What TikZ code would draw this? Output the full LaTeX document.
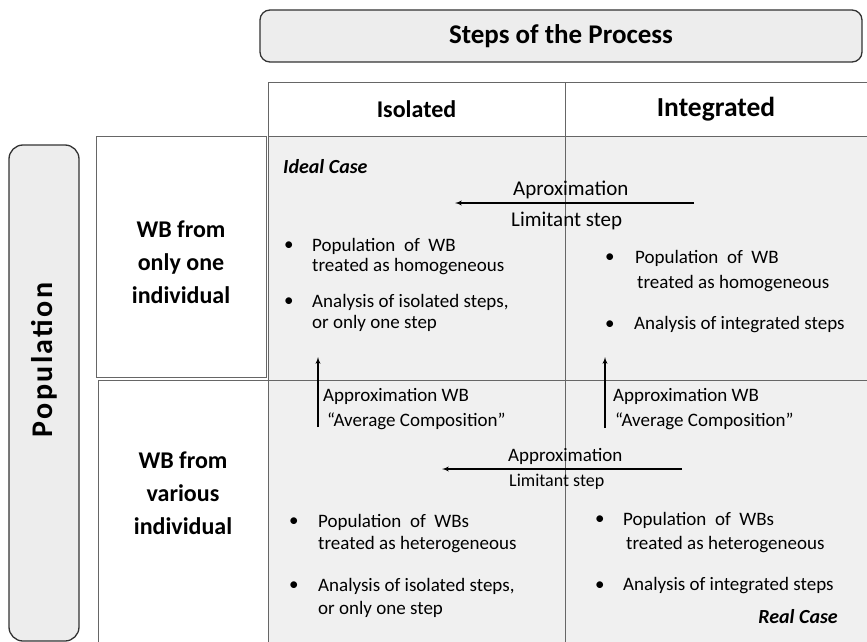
\documentclass[tikz,border=0pt]{standalone}
\usepackage{fontspec}
\setmainfont{Carlito}
\newfontfamily\popfont[LetterSpace=8]{Carlito}
\usetikzlibrary{positioning}
\usetikzlibrary{arrows}

\begin{document}
\begin{tikzpicture}[x=1pt,y=-1pt]
    \tikzstyle{every node}=[inner sep=0pt]
    \tikzstyle{titre}=[draw=black!80,line width=1.3pt,rounded corners=10pt,fill=black!7]
    \tikzstyle{cellule}=[draw=black!60,line width=1pt]
    \tikzstyle{corps}=[cellule,fill=black!6]
    \tikzstyle{entete}=[cellule,fill=white]
    \tikzstyle{ligne}=[cellule,fill=white]
    \tikzstyle{lignetxt}=[font=\fontsize{24}{33}\selectfont\bfseries,align=center]
    \tikzstyle{texte}=[anchor=west,font=\fontsize{19}{22}\selectfont]
    \tikzstyle{puce}=[texte]
    \tikzstyle{cas}=[font=\fontsize{20}{22}\selectfont\bfseries\itshape]
    \tikzstyle{fleche}=[-latex',line width=1.3pt]

\useasboundingbox (0,0) rectangle (867,642);

% Titres
\node[titre,minimum width=602,minimum height=52,font=\fontsize{27}{30}\selectfont\bfseries] (steps) at (561,36) {Steps of the Process};
\node[titre,minimum width=70,minimum height=496,rounded corners=14pt] (pop) at (44,393) {};
\node[rotate=90,font=\fontsize{30}{32}\popfont\bfseries] (popt) at (44,360) {Population};

% Entetes
\node[entete,minimum width=297,minimum height=54,font=\fontsize{24}{26}\selectfont\bfseries] (isol) at (416.5,109) {Isolated};
\node[entete,minimum width=302,minimum height=54,font=\fontsize{27.5}{30}\selectfont\bfseries] (integ) at (716,109) {Integrated};

% Cases
\node[corps,minimum width=297,minimum height=244] (c11) at (416.5,258) {};
\node[corps,minimum width=302,minimum height=244] (c12) at (716,258) {};
\node[corps,minimum width=297,minimum height=270] (c21) at (416.5,515) {};
\node[corps,minimum width=302,minimum height=270] (c22) at (716,515) {};

% Lignes
\node[ligne,minimum width=170,minimum height=241] (L-1) at (181,256.5) {};
\node[lignetxt] (L-1t) at (181,262) {WB from\\only one\\individual};
\node[ligne,minimum width=170,minimum height=270] (L-2) at (183,515) {};
\node[lignetxt] (L-2t) at (183,493) {WB from\\various\\individual};

% Case ideale
\node[cas,anchor=west] (ideal) at (283,167) {Ideal Case};
\node[puce] (p1) at (284,246) {\textbullet};
\node[texte] (t1a) at (312,246) {Population \ of \ WB};
\node[texte] (t1b) at (312,267) {treated as homogeneous};
\node[puce] (p2) at (284,302) {\textbullet};
\node[texte] (t2a) at (312,302) {Analysis of isolated steps,};
\node[texte] (t2b) at (312,323) {or only one step};

\node[puce] (p3) at (605,258) {\textbullet};
\node[texte] (t3a) at (635,258) {Population \ of \ WB};
\node[texte] (t3b) at (637,284) {treated as homogeneous};
\node[puce] (p4) at (605,325) {\textbullet};
\node[texte] (t4a) at (634,325) {Analysis of integrated steps};

% Cas reel
\node[puce] (p5) at (289,522) {\textbullet};
\node[texte] (t5a) at (318,522) {Population \ of \ WBs};
\node[texte] (t5b) at (318,545) {treated as heterogeneous};
\node[puce] (p6) at (289,586) {\textbullet};
\node[texte] (t6a) at (318,586) {Analysis of isolated steps,};
\node[texte] (t6b) at (318,609) {or only one step};

\node[puce] (p7) at (595,520) {\textbullet};
\node[texte] (t7a) at (623,520) {Population \ of \ WBs};
\node[texte] (t7b) at (626,545) {treated as heterogeneous};
\node[puce] (p8) at (595,586) {\textbullet};
\node[texte] (t8a) at (623,586) {Analysis of integrated steps};
\node[cas,anchor=east] (reel) at (838,617) {Real Case};

% Fleches horizontales
\coordinate (H1-d) at (694,203);
\coordinate (H1-a) at (455,203);
\draw[fleche] (H1-d) -- (H1-a);
\node[texte,font=\fontsize{21}{24}\selectfont] (H1-h) at (513,190) {Aproximation};
\node[texte,font=\fontsize{21}{24}\selectfont] (H1-b) at (511,221) {Limitant step};

\coordinate (H2-d) at (682,469);
\coordinate (H2-a) at (442,469);
\draw[fleche] (H2-d) -- (H2-a);
\node[texte] (H2-h) at (508,456) {Approximation};
\node[texte,font=\fontsize{18}{20}\selectfont] (H2-b) at (509,482) {Limitant step};

% Fleches verticales
\coordinate (V1-d) at (318,427);
\coordinate (V1-a) at (318,357);
\draw[fleche] (V1-d) -- (V1-a);
\node[texte] (V1-h) at (323,396) {Approximation WB};
\node[texte] (V1-b) at (327,421) {\char"201C Average Composition\char"201D};

\coordinate (V2-d) at (605,428);
\coordinate (V2-a) at (605,357);
\draw[fleche] (V2-d) -- (V2-a);
\node[texte] (V2-h) at (613,396) {Approximation WB};
\node[texte] (V2-b) at (615,421) {\char"201C Average Composition\char"201D};

\end{tikzpicture}
\end{document}
